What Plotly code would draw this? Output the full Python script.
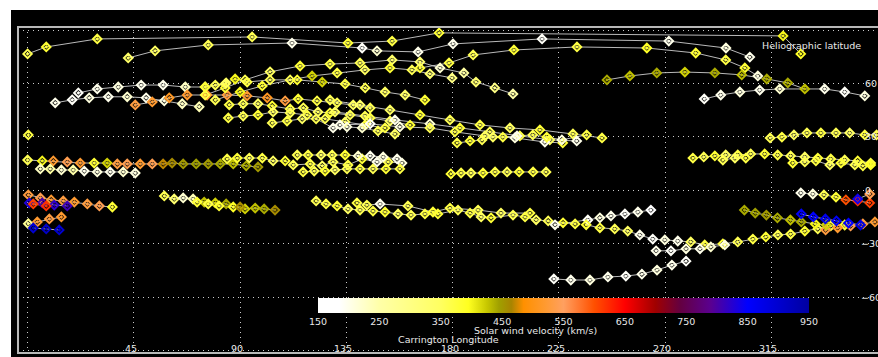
import plotly.graph_objects as go

# ---------------- data: tracks (Carrington longitude, latitude, solar wind velocity km/s) -------------
t01 = dict(lon=[0, 7.9, 29.5, 95.1, 135.7, 154.4, 174.3, 320.0, 327.5],
           lat=[76.6, 80.5, 85.0, 86.1, 82.7, 83.8, 88.4, 86.7, 76.6],
           vel=[360, 380, 370, 360, 380, 370, 380, 400, 390])
t02 = dict(lon=[42.6, 54.0, 76.5, 112.0, 141.7, 148.0, 165.4, 180.2, 217.9, 271.6, 295.8, 305.9],
           lat=[74.3, 78.3, 81.6, 82.7, 79.9, 78.3, 77.7, 82.2, 85.0, 83.8, 79.9, 74.8],
           vel=[340, 350, 360, 200, 190, 220, 200, 200, 190, 200, 210, 200])
t03 = dict(lon=[166.2, 178.5, 188.7, 206.0, 232.7, 262.3, 283.0, 295.7, 303.8, 309.3],
           lat=[68.7, 71.5, 76.0, 78.8, 80.5, 79.9, 77.1, 73.2, 68.7, 64.2],
           vel=[380, 370, 360, 380, 370, 390, 380, 370, 380, 210])
t04 = dict(lon=[245.4, 255.1, 266.5, 278.4, 291.1, 302.5, 313.1, 322.0, 329.2],
           lat=[62.0, 64.2, 65.9, 66.4, 65.9, 64.8, 62.5, 60.3, 56.9],
           vel=[440, 430, 440, 420, 440, 430, 440, 440, 430])
t05 = dict(lon=[286.6, 293.6, 301.7, 310.1, 318.6, 337.6, 346.1, 354.6],
           lat=[51.3, 53.5, 55.2, 56.3, 56.9, 56.9, 55.2, 53.0],
           vel=[190, 200, 210, 200, 220, 200, 190, 210])
t06 = dict(lon=[21.5, 29.5, 38.4, 48.1, 57.4, 66.8, 75.2, 83.7],
           lat=[54.7, 56.9, 58.0, 59.1, 59.1, 58.0, 58.0, 59.7],
           vel=[190, 200, 210, 200, 200, 230, 330, 350])
t07 = dict(lon=[11.7, 18.9, 26.1, 34.2, 42.2, 50.2, 57.9, 65.5, 72.7],
           lat=[49.1, 50.8, 51.9, 52.5, 52.5, 51.9, 50.2, 48.6, 46.9],
           vel=[200, 190, 210, 200, 220, 200, 210, 230, 240])
t08 = dict(lon=[45.6, 52.8, 60.0, 67.6, 76.0, 84.5, 93.0, 101.5, 109.1, 114.6, 122.6, 131.1, 137.9, 145.1],
           lat=[47.9, 49.6, 51.9, 53.5, 53.5, 53.5, 53.0, 51.9, 50.2, 51.3, 50.2, 49.1, 47.9, 46.2],
           vel=[530, 520, 510, 520, 520, 530, 520, 510, 530, 380, 370, 360, 350, 360])
t09 = dict(lon=[75.2, 83.7, 92.1, 102.7, 115.4, 128.1, 140.8, 154.4, 166.2, 174.7, 184.8, 189.9, 197.9, 205.6],
           lat=[53.5, 57.5, 62.0, 66.5, 69.8, 70.9, 71.5, 73.2, 72.1, 68.7, 65.9, 60.8, 57.5, 54.1],
           vel=[370, 380, 360, 350, 380, 370, 360, 340, 330, 220, 260, 330, 300, 250])
t10 = dict(lon=[79.5, 90.0, 99.4, 111.2, 120.5, 131.1, 142.9, 153.5, 162.8, 170.4, 179.8],
           lat=[50.7, 55.2, 58.6, 62.0, 64.2, 65.9, 67.6, 68.7, 67.6, 65.4, 63.1],
           vel=[360, 400, 380, 360, 420, 370, 350, 380, 360, 330, 300])
t11 = dict(lon=[75.2, 79.5, 84.1, 87.9, 93.0, 102.7, 114.2, 124.8, 134.5, 143.0, 151.4, 159.9, 168.3],
           lat=[58.0, 59.1, 60.3, 62.5, 60.8, 62.0, 62.0, 60.8, 59.7, 57.5, 55.2, 53.5, 50.7],
           vel=[380, 360, 350, 400, 370, 360, 380, 420, 370, 360, 350, 340, 380])
t12 = dict(lon=[85.4, 91.3, 97.6, 103.6, 111.2, 116.8, 123.0, 128.1, 136.6, 145.1, 153.5, 162.0],
           lat=[48.0, 48.6, 48.6, 47.4, 45.7, 46.3, 44.0, 43.5, 42.3, 40.6, 38.9, 36.6],
           vel=[370, 360, 350, 380, 370, 360, 350, 380, 360, 370, 350, 380])
t13 = dict(lon=[85.0, 91.3, 97.6, 104.0, 111.2, 118.4, 126.0, 134.5, 143.0, 151.4],
           lat=[40.6, 41.7, 42.3, 44.0, 43.4, 42.3, 40.1, 38.4, 36.7, 35.0],
           vel=[370, 360, 380, 350, 360, 370, 360, 350, 380, 370])
t14 = dict(lon=[103.6, 109.9, 116.3, 122.2, 129.4, 135.3, 141.7, 148.4, 155.6],
           lat=[37.8, 38.9, 40.1, 40.1, 35.0, 35.6, 35.0, 33.3, 31.6],
           vel=[360, 370, 350, 360, 200, 210, 220, 360, 350])
t15 = dict(lon=[128.1, 140.8, 153.5, 166.2, 178.9, 191.6, 204.3, 217.0, 231.0, 243.3],
           lat=[50.7, 47.9, 45.1, 42.3, 39.5, 36.7, 35.0, 33.9, 31.6, 29.4],
           vel=[360, 340, 350, 380, 360, 370, 350, 380, 360, 370])
t16 = dict(lon=[130.2, 142.9, 155.6, 170.4, 183.1, 195.8, 208.5, 221.2, 232.6],
           lat=[44.0, 41.7, 39.5, 37.3, 35.0, 32.8, 30.5, 28.3, 27.7],
           vel=[350, 360, 200, 220, 380, 360, 370, 350, 200])
t17 = dict(lon=[132.3, 145.1, 157.7, 170.4, 181.0, 193.7, 206.4, 219.1, 226.7],
           lat=[36.7, 37.3, 35.6, 35.0, 32.8, 30.5, 29.4, 27.1, 26.6],
           vel=[200, 190, 210, 360, 370, 350, 210, 200, 380])
t18 = dict(lon=[181.9, 187.4, 192.5, 197.1, 201.3, 207.3, 214.0, 219.9, 226.3, 236.8],
           lat=[26.6, 27.7, 28.3, 29.9, 29.9, 30.5, 31.1, 29.9, 28.3, 31.1],
           vel=[370, 380, 360, 350, 370, 200, 360, 380, 210, 370])
t19 = dict(lon=[0, 6.2, 10.9, 16.8, 22.3, 28.2, 33.7, 38.0, 42.2, 47.7, 52.8, 57.4, 61.2, 65.9, 71.4,
                76.5, 81.6, 87.1, 92.6, 97.6],
           lat=[17.0, 16.5, 16.5, 15.9, 15.3, 15.3, 15.3, 14.8, 14.8, 14.8, 14.8, 14.8, 15.3, 14.8, 14.8,
                14.8, 14.8, 14.8, 13.7, 13.1],
           vel=[360, 400, 520, 540, 520, 380, 420, 530, 540, 520, 540, 470, 460, 450, 445,
                450, 440, 430, 440, 450])
t20 = dict(lon=[5.4, 9.6, 14.3, 19.3, 24.0, 29.5, 35.0, 40.5, 45.6],
           lat=[12.0, 12.0, 11.4, 11.4, 10.8, 10.3, 10.3, 10.3, 9.7],
           vel=[230, 260, 220, 250, 200, 210, 200, 220, 210])
t21 = dict(lon=[84.5, 88.8, 93.9, 99.4, 104.0, 109.1, 112.5, 119.7, 124.8, 129.4, 135.7, 141.7, 148.0, 152.7, 158.6],
           lat=[17.6, 18.1, 18.1, 18.1, 16.5, 16.5, 14.2, 14.8, 13.7, 15.9, 14.2, 17.6, 15.9, 15.9, 15.3],
           vel=[370, 380, 360, 370, 350, 380, 360, 370, 350, 360, 370, 380, 200, 360, 210])
t22 = dict(lon=[114.2, 118.8, 124.3, 129.0, 134.5, 140.0, 145.1, 150.6, 156.5],
           lat=[19.8, 19.8, 19.8, 19.8, 19.8, 19.3, 19.3, 18.7, 17.6],
           vel=[360, 370, 350, 360, 380, 220, 200, 210, 200])
t23 = dict(lon=[116.7, 121.4, 126.0, 130.2, 135.3, 140.8, 146.3, 151.8, 157.7],
           lat=[10.3, 10.8, 10.8, 11.4, 12.0, 12.0, 12.0, 12.0, 12.0],
           vel=[370, 360, 380, 350, 360, 370, 360, 380, 370])
t24 = dict(lon=[179.3, 183.6, 187.8, 192.9, 198.0, 203.1, 208.2, 214.1, 219.6],
           lat=[9.2, 9.7, 9.7, 9.7, 10.3, 10.3, 10.3, 10.3, 10.3],
           vel=[380, 370, 360, 380, 370, 360, 380, 370, 360])
t25 = dict(lon=[314.5, 319.5, 324.6, 330.1, 336.0, 342.4, 348.2, 354.6, 359.6],
           lat=[29.4, 29.9, 31.1, 32.2, 32.2, 32.2, 32.2, 31.1, 31.1],
           vel=[360, 370, 350, 360, 370, 360, 350, 370, 360])
t26 = dict(lon=[0.3], lat=[31.1], vel=[370])
t27 = dict(lon=[281.8, 286.4, 291.1, 295.7, 300.8, 306.3, 312.2, 317.7, 323.2, 329.2, 334.7, 340.2, 346.1, 351.6, 357.1],
           lat=[18.1, 18.7, 19.3, 19.8, 19.8, 20.4, 20.4, 19.8, 19.3, 18.7, 18.1, 17.6, 17.0, 16.5, 15.3],
           vel=[370, 360, 380, 350, 370, 360, 380, 370, 360, 350, 380, 370, 360, 380, 370])
t28 = dict(lon=[294.5, 299.6, 304.2], lat=[17.0, 18.1, 18.1], vel=[360, 350, 370])
t29 = dict(lon=[324.1, 329.2, 333.9, 339.8, 344.5, 350.4, 353.8, 357.1],
           lat=[15.3, 15.9, 16.5, 14.2, 15.3, 14.2, 13.7, 14.2],
           vel=[380, 360, 370, 350, 380, 360, 370, 390])
t30 = dict(lon=[0.3, 5.4, 10.0, 15.1, 19.8, 25.3, 30.4, 35.9],
           lat=[-2.6, -4.3, -5.4, -6.0, -6.6, -7.7, -8.8, -9.4],
           vel=[530, 540, 520, 530, 520, 530, 540, 380])
t31 = dict(lon=[0.7, 6.2, 11.3, 16.8], lat=[-7.1, -7.1, -8.3, -8.8], vel=[830, 800, 820, 810])
t32 = dict(lon=[2.4, 7.9], lat=[-7.7, -8.8], vel=[610, 620])
t33 = dict(lon=[0.3, 4.1, 9.2, 14.3], lat=[-18.8, -17.8, -16.1, -15.0], vel=[280, 520, 530, 520])
t34 = dict(lon=[2.4, 7.9, 13.4], lat=[-21.2, -21.7, -22.3], vel=[900, 910, 900])
t35 = dict(lon=[57.9, 62.1, 65.9, 70.1, 74.8, 79.5, 84.1, 87.1, 92.1, 96.4, 100.2, 104.8],
           lat=[-3.2, -4.9, -4.3, -4.9, -6.6, -7.1, -7.7, -9.4, -10.5, -10.0, -10.5, -11.1],
           vel=[360, 330, 220, 240, 430, 420, 440, 390, 420, 430, 440, 460])
t36 = dict(lon=[71.8, 76.5, 81.1, 90.0], lat=[-6.6, -7.7, -8.8, -9.4], vel=[380, 370, 380, 460])
t37 = dict(lon=[122.2, 126.4, 131.1, 135.7, 140.8, 146.3, 151.4, 156.9, 162.4, 168.3, 173.8, 182.3, 187.4,
                192.1, 196.3, 205.6, 210.7, 215.4, 220.5, 226.8, 231.9],
           lat=[-6.0, -7.7, -8.8, -10.5, -11.1, -11.7, -12.2, -13.3, -13.9, -13.3, -13.3, -11.1, -12.8,
                -15.0, -15.5, -13.9, -15.0, -16.6, -17.2, -18.3, -18.9],
           vel=[360, 370, 380, 350, 360, 370, 380, 350, 360, 370, 380, 360, 370,
                350, 380, 360, 370, 350, 360, 380, 370])
t38 = dict(lon=[139.5, 143.7, 149.3, 161.1, 171.7, 178.9, 190.8, 200.5, 212.8],
           lat=[-7.1, -8.3, -7.7, -8.8, -12.2, -10.0, -11.1, -12.8, -12.8],
           vel=[370, 360, 200, 360, 380, 370, 360, 350, 370])
t39 = dict(lon=[223.4, 237.3, 242.4, 247.1, 253.0, 258.5, 264.0],
           lat=[-19.4, -16.7, -15.5, -14.4, -13.3, -12.2, -11.1],
           vel=[200, 190, 210, 200, 190, 200, 180])
t40 = dict(lon=[236.6, 242.4, 248.7, 254.2, 259.3, 264.8, 269.9, 275.4, 280.9, 286.8, 294.5, 300.8, 307.2,
                312.7, 317.8, 323.2, 329.2, 334.7, 340.2, 346.1],
           lat=[-19.4, -21.1, -21.7, -22.9, -25.1, -27.4, -27.9, -28.5, -29.0, -30.7, -30.1, -29.0, -27.4,
                -26.2, -25.1, -24.6, -22.9, -21.7, -20.0, -19.5],
           vel=[380, 370, 360, 350, 200, 190, 210, 200, 350, 370, 380, 360, 370,
                380, 360, 370, 380, 360, 370, 380])
t41 = dict(lon=[338.0, 343.1, 348.6, 353.8, 358.9], lat=[-22.3, -21.1, -20.0, -18.9, -17.8],
           vel=[530, 520, 540, 530, 520])
t42 = dict(lon=[266.2, 272.5, 278.9, 284.8, 289.4, 295.3], lat=[-34.0, -34.0, -32.9, -32.9, -31.8, -30.7],
           vel=[200, 190, 210, 200, 220, 210])
t43 = dict(lon=[222.9, 230.1, 238.2, 245.8, 253.4, 260.2, 266.6, 272.9, 278.9],
           lat=[-49.8, -50.4, -50.4, -48.7, -48.2, -47.1, -44.8, -42.0, -39.8],
           vel=[190, 200, 210, 200, 190, 200, 210, 200, 190])
t44 = dict(lon=[303.6, 308.2, 312.9, 317.6, 323.1, 327.7, 333.6, 338.3],
           lat=[-11.1, -12.8, -13.9, -15.5, -16.7, -17.8, -18.9, -19.5],
           vel=[440, 445, 450, 440, 430, 440, 400, 420])
t45 = dict(lon=[327.7, 332.8, 337.9, 342.6, 347.7, 352.8], lat=[-13.3, -15.0, -16.1, -17.2, -18.4, -19.5],
           vel=[860, 850, 870, 860, 850, 880])
t46 = dict(lon=[327.5, 332.6, 337.3, 342.4, 346.6, 351.6, 356.7], lat=[-1.5, -2.1, -2.6, -3.8, -5.4, -6.0, -7.1],
           vel=[200, 210, 360, 380, 600, 620, 610])
t47 = dict(lon=[351.6, 356.7], lat=[-4.9, -2.1], vel=[840, 540])

tracks = [t01, t02, t03, t04, t05, t06, t07, t08, t09, t10, t11, t12, t13, t14, t15, t16, t17, t18, t19, t20,
          t21, t22, t23, t24, t25, t26, t27, t28, t29, t30, t31, t32, t33, t34, t35, t36, t37, t38, t39, t40,
          t41, t42, t43, t44, t45, t46, t47]

x_ticks = [45, 90, 135, 180, 225, 270, 315]
y_ticks = [60, 30, 0, -30, -60]
cbar_ticks = [150, 250, 350, 450, 550, 650, 750, 850, 950]
vmin, vmax = 150, 950

# colour table (velocity, colour)
ctable = [(150, "#ffffff"), (185, "#ffffff"), (250, "#ffffa8"), (350, "#ffff60"), (395, "#ffff20"),
          (425, "#c8c800"), (445, "#a0a000"), (465, "#a88400"), (485, "#ff9000"), (520, "#ff9a30"),
          (550, "#ffa060"), (600, "#ff5000"), (650, "#ff0000"), (700, "#a00000"), (740, "#640040"),
          (790, "#5a0090"), (850, "#0000ff"), (900, "#0000d0"), (950, "#0000a0")]
colorscale = [[(v - vmin) / (vmax - vmin), c] for v, c in ctable]

# ---------------- figure -------------
W, H = 878, 357
L, R, T, B = 18, 0, 27, 4
pw, ph = W - L - R, H - T - B
FONT = dict(color="#e8e8e8", size=9.5, family="DejaVu Sans")

fig = go.Figure()

for t in tracks:
    fig.add_trace(go.Scatter(x=t["lon"], y=t["lat"], mode="lines",
                             line=dict(color="rgba(205,205,205,0.9)", width=1),
                             hoverinfo="skip", showlegend=False))

all_lon = [v for t in tracks for v in t["lon"]]
all_lat = [v for t in tracks for v in t["lat"]]
all_vel = [v for t in tracks for v in t["vel"]]

fig.add_trace(go.Scatter(
    x=all_lon, y=all_lat, mode="markers", showlegend=False,
    marker=dict(symbol="diamond-open-dot", size=6.5, color=all_vel, cmin=vmin, cmax=vmax,
                colorscale=colorscale, line=dict(width=2),
                colorbar=dict(orientation="h", lenmode="pixels", len=491, thickness=15,
                              x=(563.5 - L) / pw, xanchor="center", y=(H - B - 298) / ph, yanchor="top",
                              xpad=0, ypad=0, outlinewidth=0, tickmode="array", tickvals=cbar_ticks,
                              ticks="", ticklabelposition="outside bottom", tickfont=FONT)),
))

ann = []
for v in x_ticks:
    ann.append(dict(x=v, y=(H - B - 348) / ph, xref="x", yref="paper", text=str(v), showarrow=False,
                    xshift=-3, yanchor="middle", font=FONT))
for v in y_ticks:
    ann.append(dict(x=354.0 if v >= 0 else 352.3, y=v, xref="x", yref="y", text=str(v).replace("-", "\u2212"),
                    showarrow=False, xanchor="left", yanchor="middle", font=FONT))
ann.append(dict(x=310.1, y=(H - B - 45) / ph, xref="x", yref="paper", text="Heliographic latitude",
                showarrow=False, xanchor="left", yanchor="middle", font=FONT))
ann.append(dict(x=178.4, y=(H - B - 339) / ph, xref="x", yref="paper", text="Carrington Longitude",
                showarrow=False, yanchor="middle", font=FONT))
ann.append(dict(x=215.3, y=(H - B - 330.5) / ph, xref="x", yref="paper", text="Solar wind velocity (km/s)",
                showarrow=False, yanchor="middle", font=FONT))

shapes = [
    dict(type="rect", xref="paper", yref="paper", x0=(11 - L) / pw, x1=1.01, y0=(H - B - 358) / ph,
         y1=(H - B - 10) / ph, fillcolor="black", line=dict(width=0), layer="below"),
    dict(type="rect", xref="paper", yref="paper", x0=0, x1=1.005, y0=0, y1=1,
         line=dict(color="#b8b8b8", width=2), layer="above"),
]

grid = dict(showticklabels=False, showgrid=True, gridcolor="rgba(225,225,225,0.9)", griddash="1px,4px",
            gridwidth=1, zeroline=False, showline=False, ticks="")
fig.update_layout(
    width=W, height=H, margin=dict(l=L, r=R, t=T, b=B, pad=0),
    paper_bgcolor="white", plot_bgcolor="black",
    xaxis=dict(range=[-4.06, 360.2], tickvals=[0, 45, 90, 135, 180, 225, 270, 315, 360], **grid),
    yaxis=dict(range=[-91.4, 91.7], tickvals=[-90, -60, -30, 0, 30, 60, 90], **grid),
    annotations=ann, shapes=shapes,
)

fig.write_html("out.html", config={"displayModeBar": False},
               post_script="document.body.style.margin='0';document.body.style.overflow='hidden';")
